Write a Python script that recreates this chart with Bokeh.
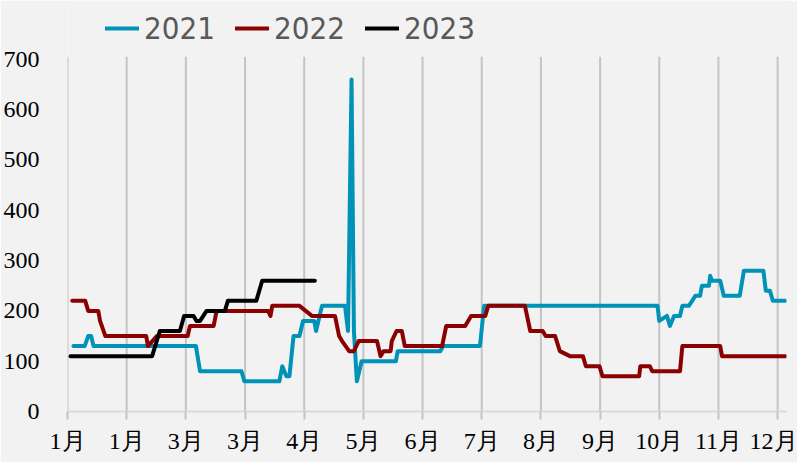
from bokeh.plotting import figure
from bokeh.models import FixedTicker, Legend, LegendItem, Range1d
from bokeh.embed import file_html
from bokeh.resources import INLINE

# x positions are in "tick units" (one unit per labelled month tick)
month_labels = ["1月", "1月", "3月", "3月", "4月", "5月", "6月", "7月", "8月", "9月", "10月", "11月", "12月"]
tick_pos = list(range(len(month_labels)))
y_ticks = [0, 100, 200, 300, 400, 500, 600, 700]

x2021 = [0.10, 0.29, 0.35, 0.40, 0.44, 2.17, 2.24, 2.94, 2.99, 3.58, 3.63, 3.70, 3.75, 3.82,
         3.92, 3.98, 4.17, 4.20, 4.30, 4.69, 4.74, 4.80, 4.84, 4.89, 4.97, 5.55, 5.58, 6.30,
         6.35, 6.97, 7.04, 9.97, 10.00, 10.13, 10.18, 10.25, 10.35, 10.39, 10.50, 10.61, 10.69,
         10.72, 10.84, 10.86, 10.89, 11.03, 11.09, 11.36, 11.43, 11.76, 11.80, 11.87, 11.92, 12.13]
y2021 = [130, 130, 150, 150, 130, 130, 80, 80, 60, 60, 90, 70, 70, 150,
         150, 180, 180, 160, 210, 210, 160, 660, 160, 60, 100, 100, 120, 120,
         130, 130, 210, 210, 180, 190, 170, 190, 190, 210, 210, 230, 230,
         250, 250, 270, 260, 260, 230, 230, 280, 280, 240, 240, 220, 220]

x2022 = [0.08, 0.30, 0.35, 0.52, 0.55, 0.64, 1.33, 1.36, 1.51, 2.03, 2.07, 2.47, 2.52, 3.39,
         3.43, 3.46, 3.92, 4.13, 4.52, 4.59, 4.64, 4.76, 4.84, 4.92, 5.23, 5.29, 5.34, 5.46,
         5.48, 5.56, 5.65, 5.70, 6.33, 6.40, 6.72, 6.82, 7.06, 7.11, 7.73, 7.82, 8.03, 8.08,
         8.24, 8.32, 8.49, 8.71, 8.76, 8.99, 9.04, 9.66, 9.68, 9.84, 9.88, 10.35, 10.39, 11.03,
         11.06, 12.13]
y2022 = [220, 220, 200, 200, 180, 150, 150, 130, 150, 150, 170, 170, 200, 200,
         190, 210, 210, 190, 190, 150, 140, 120, 120, 140, 140, 110, 120, 120,
         140, 160, 160, 130, 130, 170, 170, 190, 190, 210, 210, 160, 160, 150,
         150, 120, 110, 110, 90, 90, 70, 70, 90, 90, 80, 80, 130, 130,
         110, 110]

x2023 = [0.05, 1.43, 1.56, 1.90, 1.97, 2.13, 2.18, 2.24, 2.35, 2.66, 2.71, 3.19, 3.29, 4.18]
y2023 = [110, 110, 160, 160, 190, 190, 180, 180, 200, 200, 220, 220, 260, 260]

series = [("2021", x2021, y2021, "#0192B8"),
          ("2022", x2022, y2022, "#8B0000"),
          ("2023", x2023, y2023, "#000000")]

BG = "#F2F2F2"
GRID = "#C4C4C4"

# frame extends to the top of the figure so the legend can sit above the 700 line
p = figure(width=797, height=462, output_backend="svg", toolbar_location=None,
           x_range=Range1d(0, 12.15), y_range=Range1d(0, 817),
           min_border_left=63, min_border_right=11, min_border_top=0, min_border_bottom=51)
p.background_fill_color = BG
p.border_fill_color = BG
p.outline_line_color = None

# vertical gridlines, only up to the top of the value scale
p.segment(x0=tick_pos, x1=tick_pos, y0=[0] * len(tick_pos), y1=[705] * len(tick_pos),
          line_color=GRID, line_width=2)

items = []
for name, xs, ys, col in series:
    r = p.line(xs, ys, line_color=col, line_width=4, line_join="round", line_cap="round")
    items.append(LegendItem(label=name, renderers=[r]))

# x axis
p.xaxis.ticker = FixedTicker(ticks=tick_pos)
p.xaxis.major_label_overrides = {i: lab for i, lab in zip(tick_pos, month_labels)}
p.xaxis.axis_line_color = "#D9D9D9"
p.xaxis.axis_line_width = 2
p.xaxis.major_tick_line_color = GRID
p.xaxis.major_tick_line_width = 2
p.xaxis.major_tick_out = 8
p.xaxis.major_tick_in = 0
p.xaxis.minor_tick_line_color = None
p.xaxis.major_label_standoff = 8
p.xaxis.major_label_text_font = "Liberation Serif"
p.xaxis.major_label_text_font_size = "24px"
p.xaxis.major_label_text_color = "#000000"

# y axis
p.yaxis.ticker = FixedTicker(ticks=y_ticks)
p.yaxis.axis_line_color = None
p.yaxis.major_tick_line_color = None
p.yaxis.minor_tick_line_color = None
p.yaxis.major_label_standoff = 22
p.yaxis.major_label_text_font = "Liberation Serif"
p.yaxis.major_label_text_font_size = "24px"
p.yaxis.major_label_text_color = "#000000"

p.xgrid.grid_line_color = None
p.ygrid.grid_line_color = None

legend = Legend(items=items, orientation="horizontal", location=(38, 365),
                glyph_width=34, glyph_height=30, label_height=30, label_standoff=5,
                spacing=20, padding=0, margin=0,
                label_text_font="'Liberation Sans Narrow', 'DejaVu Sans Condensed', sans-serif",
                label_text_font_size="31px", label_text_color="#595959",
                background_fill_alpha=0, border_line_color=None)
p.add_layout(legend, "center")

open("out.html", "w").write(file_html(p, INLINE))
